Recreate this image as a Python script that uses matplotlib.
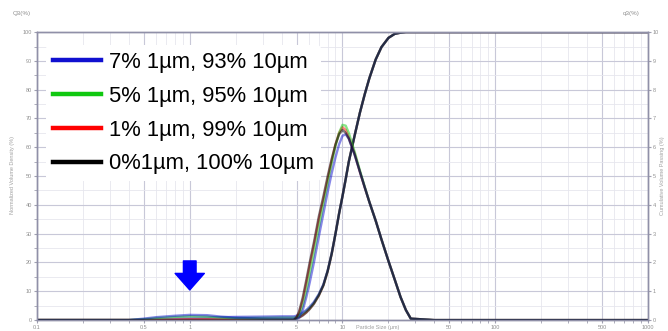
import matplotlib
matplotlib.use("Agg")
import matplotlib.pyplot as plt
from matplotlib.lines import Line2D
from matplotlib.ticker import LogLocator, NullFormatter, FixedLocator

plt.rcParams['font.family'] = ['Liberation Sans', 'DejaVu Sans']

# particle size grid (um)
size_um = [0.1, 0.4, 0.5, 0.6, 0.8, 1.0, 1.3, 1.6, 2.0, 3.0, 4.0, 4.8,
           5.0, 5.2, 5.5, 5.8, 6.1, 6.5, 7.0, 7.5, 8.0, 8.5,
           9.0, 9.5, 10.0, 10.5, 11.0, 12.0, 13.0, 14.0, 15.0, 16.5,
           18.0, 20.0, 22.0, 24.0, 26.0, 28.0, 40, 100, 1000]

labels = ["7% 1µm, 93% 10µm", "5% 1µm, 95% 10µm",
          "1% 1µm, 99% 10µm", "0%1µm, 100% 10µm"]
colors = ["#1010d0", "#10c810", "#ff0000", "#000000"]

# density q3 (%)
q3_7 = [0, 0, 0.05, 0.10, 0.15, 0.18, 0.17, 0.12, 0.08, 0.05, 0.05, 0.05,
        0.05, 0.1, 0.35, 0.8, 1.3, 2.0, 2.9, 3.7, 4.45, 5.1,
        5.65, 6.1, 6.4, 6.45, 6.3, 5.75, 5.15, 4.6, 4.1, 3.45,
        2.8, 2.05, 1.4, 0.8, 0.35, 0.05, 0, 0, 0]
q3_5 = [0, 0, 0.03, 0.07, 0.11, 0.13, 0.12, 0.09, 0.06, 0.04, 0.04, 0.04,
        0.05, 0.15, 0.5, 1.0, 1.6, 2.3, 3.2, 4.0, 4.75, 5.45,
        6.05, 6.5, 6.78, 6.75, 6.5, 5.85, 5.2, 4.62, 4.1, 3.45,
        2.8, 2.05, 1.4, 0.8, 0.35, 0.05, 0, 0, 0]
q3_1 = [0, 0, 0, 0.01, 0.02, 0.03, 0.03, 0.02, 0.01, 0.01, 0.01, 0.01,
        0.08, 0.25, 0.7, 1.3, 1.9, 2.6, 3.5, 4.2, 4.9, 5.55,
        6.1, 6.5, 6.7, 6.6, 6.35, 5.8, 5.15, 4.6, 4.1, 3.45,
        2.8, 2.05, 1.4, 0.8, 0.35, 0.05, 0, 0, 0]
q3_0 = [0, 0, 0, 0, 0, 0, 0, 0, 0, 0, 0, 0,
        0.1, 0.3, 0.8, 1.4, 2.0, 2.7, 3.6, 4.3, 5.0, 5.6,
        6.1, 6.45, 6.6, 6.5, 6.3, 5.75, 5.15, 4.6, 4.1, 3.45,
        2.8, 2.05, 1.4, 0.8, 0.35, 0.05, 0, 0, 0]

# cumulative Q3 (%)
Q3_7 = [0, 0, 0.1, 0.2, 0.4, 0.6, 0.8, 1.0, 1.1, 1.2, 1.3, 1.3,
        1.5, 1.9, 2.6, 3.5, 4.6, 6.3, 9.0, 12.4, 17.2, 23.2,
        30, 37, 43, 49, 55, 64, 72, 78.5, 84, 90.5,
        94.8, 98, 99.4, 99.8, 100, 100, 100, 100, 100]
Q3_5 = [0, 0, 0.1, 0.15, 0.3, 0.4, 0.5, 0.6, 0.7, 0.8, 0.9, 0.9,
        1.1, 1.5, 2.3, 3.2, 4.3, 6.0, 8.8, 12.2, 17.1, 23.1,
        30, 37, 43, 49, 55, 64, 72, 78.5, 84, 90.5,
        94.8, 98, 99.4, 99.8, 100, 100, 100, 100, 100]
Q3_1 = [0, 0, 0, 0, 0.05, 0.1, 0.1, 0.15, 0.2, 0.2, 0.2, 0.2,
        0.5, 1.0, 1.8, 2.8, 4.0, 5.8, 8.6, 12.1, 17.0, 23.0,
        30, 37, 43, 49, 55, 64, 72, 78.5, 84, 90.5,
        94.8, 98, 99.4, 99.8, 100, 100, 100, 100, 100]
Q3_0 = [0, 0, 0, 0, 0, 0, 0, 0, 0, 0, 0, 0,
        0.3, 0.8, 1.6, 2.6, 3.8, 5.6, 8.5, 12, 17, 23,
        30, 37, 43, 49, 55, 64, 72, 78.5, 84, 90.5,
        94.8, 98, 99.4, 99.8, 100, 100, 100, 100, 100]

density = [q3_7, q3_5, q3_1, q3_0]
cumulative = [Q3_7, Q3_5, Q3_1, Q3_0]

fig = plt.figure(figsize=(6.68, 3.31), dpi=100)
ax = fig.add_axes([0.0554, 0.033, 0.9146, 0.870])
ax2 = ax.twinx()

ax.set_xscale('log')
ax.set_xlim(0.1, 1000)
ax.set_ylim(0, 100)
ax2.set_ylim(0, 10)

# grid
ax.xaxis.set_major_locator(FixedLocator([0.1, 0.5, 1, 5, 10, 50, 100, 500, 1000]))
ax.xaxis.set_minor_locator(LogLocator(base=10, subs=[2, 3, 4, 6, 7, 8, 9]))
ax.xaxis.set_minor_formatter(NullFormatter())
ax.set_xticklabels(["0.1", "0.5", "1", "5", "10", "50", "100", "500", "1000"])
ax.set_yticks(range(0, 101, 10))
ax.set_yticks(range(5, 100, 10), minor=True)
ax2.set_yticks(range(0, 11, 1))
ax.grid(True, which='major', color='#c8c8d8', lw=0.8)
ax.grid(True, which='minor', color='#e6e6ee', lw=0.6)
ax.set_axisbelow(True)

for a in (ax, ax2):
    for s in a.spines.values():
        s.set_color('#9090a8')
        s.set_linewidth(1.0)
    a.tick_params(which='both', length=2, color='#a0a0b0', labelsize=4,
                  labelcolor='#909090', pad=1.5)

# curves: red, green, blue, then black on top
for i in [2, 1, 0, 3]:
    ax.plot(size_um, cumulative[i], color=colors[i], lw=1.7, alpha=0.5)
    ax2.plot(size_um, density[i], color=colors[i], lw=1.7, alpha=0.5)
ax2.fill_between(size_um, 0, q3_7, where=[0.5 <= s <= 5.2 for s in size_um],
                 color='#a8a8e8', alpha=0.6, lw=0)

# axis labels (small, grey)
fig.text(0.033, 0.955, "Q3(%)", fontsize=4.5, color='#909090', ha='center')
fig.text(0.945, 0.955, "q3(%)", fontsize=4.5, color='#909090', ha='center')
fig.text(0.018, 0.47, "Normalized Volume Density (%)", rotation=90,
         fontsize=4, color='#a0a0a0', ha='center', va='center')
fig.text(0.992, 0.47, "Cumulative Volume Passing (%)", rotation=90,
         fontsize=4, color='#a0a0a0', ha='center', va='center')
fig.text(0.565, 0.002, "Particle Size (µm)", fontsize=4, color='#a0a0a0',
         ha='center', va='bottom')

# arrow at 1 um
ax2.annotate('', xy=(1.0, 0.95), xytext=(1.0, 2.15),
             arrowprops=dict(arrowstyle='simple,head_length=0.85,head_width=1.5,tail_width=0.65',
                             color='#0000ff', mutation_scale=14))

# legend
handles = [Line2D([0], [0], color=c, lw=3.2) for c in colors]
leg = ax2.legend(handles, labels, loc='upper left', bbox_to_anchor=(0.0147, 0.955),
                 borderaxespad=0, fontsize=15.8, frameon=True, handlelength=2.2,
                 handletextpad=0.37, labelspacing=0.59, borderpad=0.3)
leg.get_frame().set_facecolor('white')
leg.get_frame().set_edgecolor('none')
leg.get_frame().set_alpha(1)

fig.savefig("out.png", dpi=100)
